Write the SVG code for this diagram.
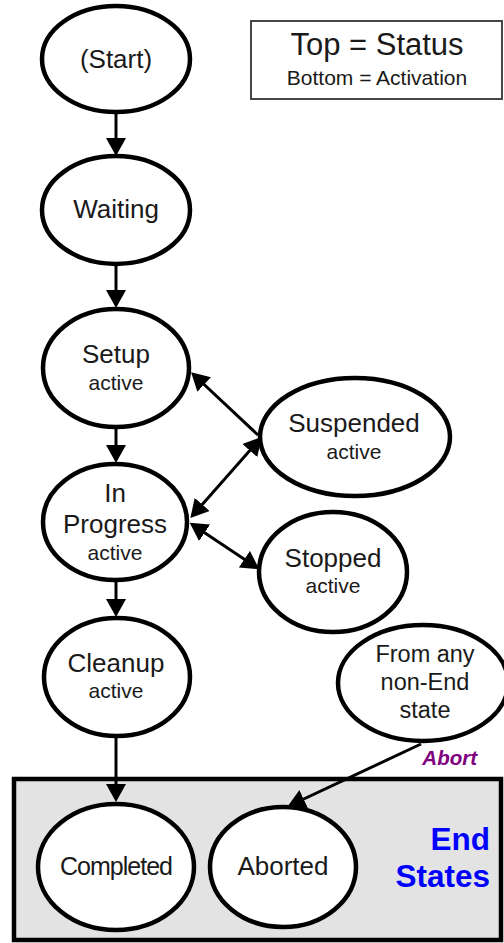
<svg xmlns="http://www.w3.org/2000/svg" width="504" height="943" viewBox="0 0 504 943">
<style>
.node ellipse{fill:#fff;stroke:#000;stroke-width:4.5}
.t{font-family:"Liberation Sans",Arial,sans-serif;fill:#1a1a1a;text-anchor:middle}
.big{font-size:26px}
.sm{font-size:21px}
.conn line{stroke:#000;stroke-width:3;fill:none}
</style>
<defs>
<marker id="ah" viewBox="0 0 18 20" refX="14" refY="10" markerWidth="18" markerHeight="20" markerUnits="userSpaceOnUse" orient="auto-start-reverse">
<path d="M0,0 L18,10 L0,20 z" fill="#000"/>
</marker>
</defs>
<rect width="504" height="943" fill="#fff"/>
<g id="end-states">
<rect x="14" y="779" width="487" height="161" fill="#e3e3e3" stroke="#000" stroke-width="4.5"/>
<text x="490" y="850" font-family="Liberation Sans,Arial,sans-serif" font-weight="bold" font-size="31.5" fill="#0000ff" text-anchor="end">End</text>
<text x="490" y="887" font-family="Liberation Sans,Arial,sans-serif" font-weight="bold" font-size="31.5" fill="#0000ff" text-anchor="end">States</text>
</g>
<g id="legend">
<rect x="251" y="21" width="251" height="78" fill="#fff" stroke="#333" stroke-width="1.8"/>
<text class="t" x="377" y="55" font-size="31">Top = Status</text>
<text class="t" x="377" y="85" font-size="21">Bottom = Activation</text>
</g>
<g id="connectors" class="conn">
<line x1="116" y1="112" x2="116" y2="152" marker-end="url(#ah)"/>
<line x1="116" y1="264" x2="116" y2="304" marker-end="url(#ah)"/>
<line x1="116" y1="428" x2="116" y2="459" marker-end="url(#ah)"/>
<line x1="116" y1="581" x2="116" y2="613" marker-end="url(#ah)"/>
<line x1="116" y1="736" x2="116" y2="798" marker-end="url(#ah)"/>
<line x1="258" y1="435" x2="194" y2="375" marker-end="url(#ah)"/>
<line x1="193" y1="515" x2="259" y2="440" marker-start="url(#ah)" marker-end="url(#ah)"/>
<line x1="193" y1="525" x2="256" y2="567" marker-start="url(#ah)" marker-end="url(#ah)"/>
<line x1="421" y1="744" x2="291" y2="805" marker-end="url(#ah)"/>
<text x="477" y="765" font-family="Liberation Sans,Arial,sans-serif" font-weight="bold" font-style="italic" font-size="20.5" fill="#800080" text-anchor="end">Abort</text>
</g>
<g id="start" class="node"><ellipse cx="116" cy="59" rx="74" ry="53"/><text class="t big" x="116" y="68">(Start)</text></g>
<g id="waiting" class="node"><ellipse cx="116" cy="210" rx="74" ry="54"/><text class="t big" x="116" y="218">Waiting</text></g>
<g id="setup" class="node"><ellipse cx="116" cy="368" rx="73" ry="59"/><text class="t big" x="116" y="363">Setup</text><text class="t sm" x="116" y="390">active</text></g>
<g id="inprogress" class="node"><ellipse cx="115" cy="522" rx="72" ry="58"/><text class="t big" x="115" y="502">In</text><text class="t big" x="115" y="533">Progress</text><text class="t sm" x="115" y="560">active</text></g>
<g id="suspended" class="node"><ellipse cx="355" cy="437" rx="95" ry="59"/><text class="t big" x="354" y="432">Suspended</text><text class="t sm" x="354" y="459">active</text></g>
<g id="stopped" class="node"><ellipse cx="333" cy="572" rx="74" ry="60"/><text class="t big" x="333" y="567">Stopped</text><text class="t sm" x="333" y="593">active</text></g>
<g id="cleanup" class="node"><ellipse cx="117" cy="677" rx="73" ry="59"/><text class="t big" x="116" y="672">Cleanup</text><text class="t sm" x="116" y="698">active</text></g>
<g id="fromany" class="node"><ellipse cx="423" cy="683" rx="85" ry="58"/><text class="t" font-size="23.5" x="425" y="662">From any</text><text class="t" font-size="23.5" x="425" y="690">non-End</text><text class="t" font-size="23.5" x="425" y="718">state</text></g>
<g id="completed" class="node"><ellipse cx="116" cy="867" rx="78" ry="63"/><text class="t" font-size="25" x="116" y="875" letter-spacing="-1">Completed</text></g>
<g id="aborted" class="node"><ellipse cx="283" cy="867" rx="73" ry="60"/><text class="t big" x="283" y="875">Aborted</text></g>
</svg>
